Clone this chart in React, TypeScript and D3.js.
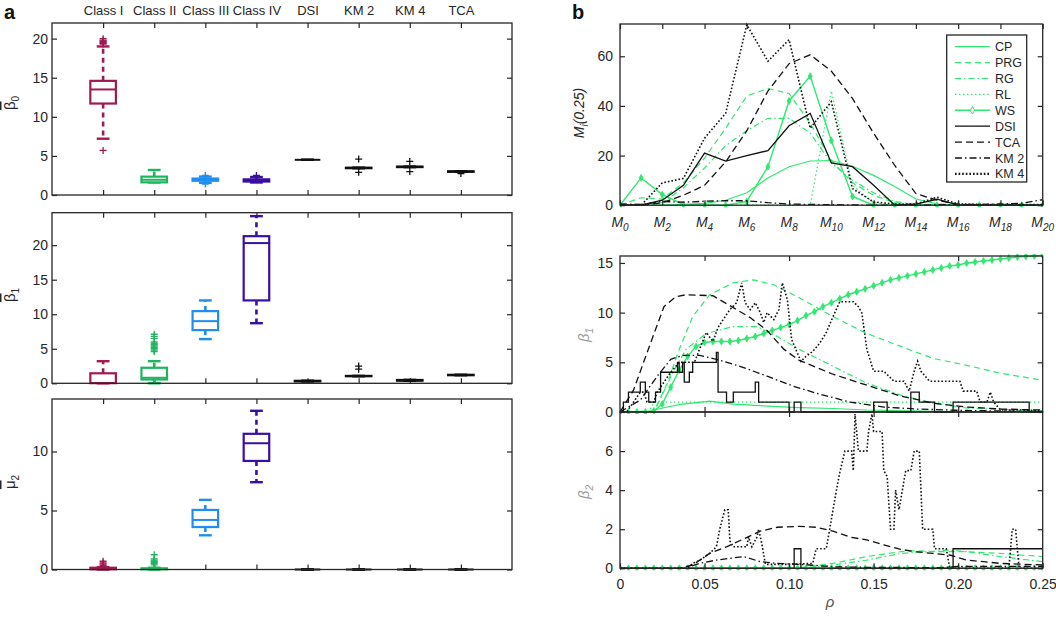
import { useEffect, useRef } from 'react';
import * as d3 from 'd3';

const FONT = "'Liberation Sans', Arial, Helvetica, sans-serif";
const INK = '#262626';
const GREEN = '#2fe86f';
const BLACK = '#111111';

// ---------- panel a: box plots ----------
const categories = ['Class I', 'Class II', 'Class III', 'Class IV', 'DSI', 'KM 2', 'KM 4', 'TCA'];
const boxColors = ['#a01b52', '#1eb55e', '#1f8ef0', '#3a0ea0', BLACK, BLACK, BLACK, BLACK];

// [lower whisker, q1, median, q3, upper whisker]
const beta0Boxes = [
  [7.2, 11.7, 13.5, 14.6, 19.0],
  [1.6, 1.62, 1.95, 2.35, 3.2],
  [1.55, 1.82, 1.95, 2.1, 2.35],
  [1.6, 1.72, 1.85, 2.0, 2.3],
  [4.5, 4.5, 4.5, 4.5, 4.5],
  [3.42, 3.43, 3.46, 3.49, 3.5],
  [3.56, 3.57, 3.6, 3.63, 3.64],
  [2.96, 2.97, 3.0, 3.03, 3.04],
];
const beta0Outliers = [
  [5.7, 19.3, 19.4, 19.5, 19.6, 19.7, 19.8, 20.0],
  [], [1.4, 2.5], [2.5], [], [2.9, 4.6], [3.0, 4.3], [2.75],
];

const beta1Boxes = [
  [0, 0.02, 0.05, 1.45, 3.2],
  [0, 0.55, 0.8, 2.25, 3.2],
  [6.4, 7.7, 9.0, 10.45, 12.0],
  [8.7, 12.0, 20.3, 21.3, 24.2],
  [0.26, 0.28, 0.32, 0.36, 0.38],
  [1.02, 1.03, 1.05, 1.07, 1.08],
  [0.36, 0.38, 0.43, 0.48, 0.5],
  [1.16, 1.17, 1.2, 1.23, 1.24],
];
const beta1Outliers = [
  [], [4.6, 4.8, 5.0, 5.2, 5.4, 5.6, 5.8, 6.0, 6.5, 6.8, 7.1], [], [], [], [2.05, 2.5], [], [],
];

const mu2Boxes = [
  [0, 0.02, 0.05, 0.15, 0.2],
  [0, 0.02, 0.05, 0.1, 0.15],
  [2.9, 3.6, 4.2, 5.05, 5.9],
  [7.4, 9.2, 10.7, 11.5, 13.45],
  [0, 0, 0, 0, 0],
  [0, 0, 0, 0, 0],
  [0, 0, 0, 0, 0],
  [0, 0, 0, 0, 0],
];
const mu2Outliers = [
  [0.25, 0.35, 0.45, 0.55, 0.7], [0.4, 0.5, 0.6, 0.7, 0.8, 0.9, 1.25], [], [], [], [], [], [],
];

// ---------- panel b, top: M_i(0.25) over M0..M20 ----------
const mIndex = d3.range(21);
const cpTop = [0, 0, 0, 0.3, 0.7, 2, 5, 11, 15.5, 17.8, 18, 15.7, 12, 7.5, 2.5, 0.5, 0, 0, 0, 0, 0];
const prgTop = [0, 3, 2.5, 9, 19, 31, 44, 47, 45, 33, 18, 9, 4, 1, 0.3, 0, 0, 0, 0, 0, 0];
const rgTop = [0, 0.5, 1, 7, 15, 24, 30, 35, 35, 29, 17, 10, 5, 1.5, 0.3, 0, 0, 0, 0, 0, 0];
const rlTop = [0, 0, 0, 0, 0, 0, 0, 0, 0, 0, 46, 8, 1, 0, 0, 0, 0, 0, 0, 0, 0];
const wsTop = [0, 11, 4.3, 0.3, 0, 0, 1.5, 15.5, 42, 52, 26, 3.5, 0, 0, 0, 0, 0, 0, 0, 0, 0];
const dsiTop = [0, 0, 2, 8, 21, 17.8, 20, 22, 32, 37, 17, 15.5, 8, 0, 0.4, 2.4, 0, 0, 0, 0, 0];
const tcaTop = [0, 0, 1, 4, 8, 17.5, 30, 46, 57, 60.6, 54, 43, 29, 16, 4.7, 2, 0.3, 0, 0, 0, 0];
const km2Top = [0.5, 0.3, 1.5, 1.2, 1.6, 1.8, 1.8, 1, 0.5, 0.3, 0.2, 0.1, 0, 0, 0, 0.2, 0.3, 0.3, 0.5, 0.8, 2.2];
const km4Top = [0, 0, 9, 10.8, 27, 37, 72.7, 58, 66.7, 31, 41.7, 6.7, 1.3, 0.5, 0.5, 3.2, 0.5, 0.3, 0.3, 0.3, 0.3];

// ---------- panel b, middle: beta_1 over rho ----------
const rhoGrid = d3.range(0, 0.2501, 0.005);
const wsBeta1 = [0, 0, 0, 0, 0.1, 0.8, 2.5, 4.2, 5.6, 6.6, 7.0, 7.1, 7.1, 7.1, 7.2, 7.4, 7.6, 7.9, 8.2, 8.5,
  8.8, 9.2, 9.7, 10.1, 10.6, 11.0, 11.4, 11.8, 12.1, 12.4, 12.7, 13.0, 13.3, 13.5, 13.7, 13.9, 14.1, 14.3,
  14.5, 14.7, 14.8, 15.0, 15.1, 15.2, 15.3, 15.4, 15.5, 15.6, 15.65, 15.7, 15.75];
const cpBeta1 = [[0, 0], [0.018, 0.1], [0.028, 0.5], [0.037, 0.8], [0.053, 1.1], [0.067, 0.8], [0.087, 0.6],
  [0.106, 0.45], [0.126, 0.35], [0.146, 0.2], [0.185, 0.07], [0.25, 0]];
const prgBeta1 = [[0, 0], [0.02, 0], [0.028, 2.9], [0.035, 6.3], [0.043, 9.6], [0.053, 11.8], [0.067, 13],
  [0.079, 13.3], [0.091, 12.8], [0.106, 11.5], [0.126, 9.6], [0.146, 7.9], [0.166, 6.6], [0.185, 5.4],
  [0.205, 4.7], [0.225, 3.9], [0.25, 3.2]];
const rgBeta1 = [[0, 0], [0.02, 0], [0.032, 4.2], [0.039, 6.3], [0.051, 7.9], [0.067, 8.6], [0.081, 8.6],
  [0.093, 7.6], [0.106, 6.3], [0.126, 4.6], [0.146, 2.9], [0.166, 1.7], [0.185, 0.9], [0.205, 0.4], [0.25, 0.1]];
const rlBeta1 = [[0, 0], [0.017, 0], [0.02, 1], [0.25, 1]];
const dsiBeta1 = [[0, 0], [0.002, 1], [0.005, 2], [0.012, 3], [0.015, 2], [0.017, 1], [0.021, 2], [0.024, 4],
  [0.034, 5], [0.035, 4], [0.037, 5], [0.038, 3], [0.041, 4], [0.043, 5], [0.057, 6], [0.058, 2], [0.063, 1],
  [0.067, 2], [0.08, 3], [0.082, 1], [0.1, 0], [0.103, 1], [0.107, 0], [0.15, 1], [0.158, 0], [0.172, 2],
  [0.177, 1], [0.186, 0], [0.197, 1], [0.242, 0], [0.25, 0]];
const tcaBeta1 = [[0, 0], [0.008, 2.2], [0.018, 6.9], [0.026, 10.6], [0.033, 11.6], [0.039, 11.8], [0.055, 11.7],
  [0.067, 10.5], [0.077, 9.5], [0.087, 8.2], [0.097, 6.3], [0.106, 5.2], [0.126, 3.8], [0.146, 2.7],
  [0.166, 1.6], [0.185, 0.9], [0.205, 0.5], [0.225, 0.3], [0.25, 0.2]];
const km2Beta1 = [[0, 0], [0.012, 1.2], [0.022, 3.6], [0.03, 5.3], [0.037, 5.7], [0.047, 5.7], [0.057, 5.3],
  [0.071, 4.6], [0.087, 3.6], [0.1025, 2.6], [0.116, 1.9], [0.136, 1.0], [0.156, 0.5], [0.175, 0.3],
  [0.205, 0.15], [0.25, 0.05]];
const km4Beta1 = [[0, 0], [0.004, 0], [0.008, 1], [0.012, 2], [0.014, 2], [0.016, 1], [0.02, 1], [0.022, 2],
  [0.026, 3], [0.03, 4], [0.035, 5], [0.044, 5], [0.047, 6.3], [0.051, 8], [0.055, 7.1], [0.058, 8.5],
  [0.061, 9.3], [0.065, 10.3], [0.069, 11], [0.072, 13], [0.074, 11], [0.077, 10.3], [0.08, 11], [0.083, 10],
  [0.085, 9], [0.087, 10], [0.091, 9.3], [0.094, 10.3], [0.096, 13], [0.099, 11.3], [0.1015, 7.3],
  [0.104, 6.3], [0.107, 5.1], [0.11, 5.6], [0.114, 6.1], [0.118, 6.9], [0.122, 8], [0.126, 9.6], [0.13, 11.1],
  [0.138, 11.1], [0.141, 10.6], [0.143, 10], [0.146, 6.3], [0.15, 4.1], [0.156, 4.1], [0.162, 3.1],
  [0.168, 3.1], [0.171, 2.1], [0.174, 4.1], [0.176, 5.1], [0.178, 4.1], [0.183, 3.1], [0.201, 3.1],
  [0.203, 2.1], [0.211, 2.1], [0.213, 1], [0.217, 1], [0.219, 2], [0.221, 1], [0.225, 0.2], [0.24, 0.2], [0.25, 0.1]];

// ---------- panel b, bottom: beta_2 over rho ----------
const wsBeta2 = [0, 0, 0, 0, 0, 0, 0, 0, 0, 0, 0, 0, 0, 0, 0, 0, 0, 0, 0, 0, 0, 0, 0, 0, 0, 0,
  0, 0, 0, 0, 0, 0, 0, 0, 0, 0, 0, 0, 0, 0, 0, 0, 0, 0, 0, 0, 0, 0, 0, 0, 0];
const cpBeta2 = [[0, 0], [0.25, 0]];
const rlBeta2 = [[0, 0], [0.25, 0]];
const prgBeta2 = [[0, 0], [0.105, 0], [0.11, 0.08], [0.126, 0.25], [0.146, 0.6], [0.156, 0.73], [0.166, 0.85],
  [0.175, 0.9], [0.185, 0.85], [0.205, 0.85], [0.225, 0.76], [0.25, 0.6]];
const rgBeta2 = [[0, 0], [0.11, 0], [0.126, 0.17], [0.146, 0.42], [0.166, 0.76], [0.195, 0.93], [0.205, 0.85],
  [0.225, 0.6], [0.25, 0.34]];
const dsiBeta2 = [[0, 0], [0.103, 1], [0.107, 0], [0.197, 1], [0.25, 1]];
const tcaBeta2 = [[0, 0], [0.035, 0], [0.043, 0.17], [0.053, 0.76], [0.063, 1.1], [0.073, 1.5], [0.083, 1.9],
  [0.093, 2.1], [0.106, 2.15], [0.116, 2.1], [0.126, 1.9], [0.136, 1.6], [0.146, 1.45], [0.156, 1.2],
  [0.166, 0.97], [0.175, 0.85], [0.185, 0.76], [0.195, 0.68], [0.205, 0.42], [0.215, 0.34], [0.225, 0.25], [0.25, 0.17]];
const km2Beta2 = [[0, 0], [0.038, 0], [0.047, 0.25], [0.057, 0.42], [0.073, 0.6], [0.083, 0.34], [0.093, 0.25],
  [0.1025, 0.22], [0.112, 0.17], [0.126, 0.08], [0.146, 0.05], [0.19, 0.03], [0.2, 0.1], [0.25, 0.1]];
const km4Beta2 = [[0, 0], [0.04, 0], [0.043, 0.25], [0.047, 0.4], [0.053, 0.76], [0.057, 1.1], [0.059, 2],
  [0.062, 3], [0.064, 3], [0.065, 1.4], [0.067, 1.1], [0.075, 1.1], [0.076, 1.6], [0.078, 1.1], [0.081, 1.6],
  [0.082, 2], [0.084, 1.2], [0.086, 0.2], [0.1, 0.2], [0.114, 0.25], [0.116, 1], [0.122, 1], [0.124, 2],
  [0.126, 3], [0.128, 4], [0.13, 4.9], [0.133, 6], [0.137, 6], [0.138, 5], [0.139, 7.9], [0.141, 6],
  [0.146, 6], [0.147, 7], [0.149, 7.9], [0.15, 7], [0.155, 7], [0.156, 5], [0.158, 4.7], [0.16, 2],
  [0.162, 2], [0.163, 4], [0.165, 3], [0.167, 4], [0.169, 5], [0.172, 5], [0.174, 6], [0.177, 6],
  [0.179, 2], [0.185, 2], [0.186, 1], [0.193, 1], [0.195, 0], [0.23, 0], [0.232, 2], [0.234, 2],
  [0.236, 0], [0.25, 0]];

const legendNames = ['CP', 'PRG', 'RG', 'RL', 'WS', 'DSI', 'TCA', 'KM 2', 'KM 4'];
const seriesStyle: Record<string, { color: string; dash: string | null; width: number; marker?: boolean; step?: boolean }> = {
  CP: { color: GREEN, dash: null, width: 1.2 },
  PRG: { color: GREEN, dash: '6,4', width: 1.2 },
  RG: { color: GREEN, dash: '6,3,1.5,3', width: 1.2 },
  RL: { color: GREEN, dash: '1.5,2.5', width: 1.2 },
  WS: { color: GREEN, dash: null, width: 1.4, marker: true },
  DSI: { color: BLACK, dash: null, width: 1.3, step: true },
  TCA: { color: BLACK, dash: '7,4', width: 1.3 },
  'KM 2': { color: BLACK, dash: '7,3,1.5,3', width: 1.3 },
  'KM 4': { color: BLACK, dash: '1.6,2', width: 1.6 },
};

function styleAxis(sel: any) {
  sel.attr('font-family', FONT).attr('font-size', 14).attr('color', INK);
  sel.select('.domain').remove();
  sel.selectAll('line').attr('stroke-width', 1.2);
}

function yLabel(svg: any, x: number, y: number, main: string, sub: string, color: string, italic: boolean, bar: boolean) {
  const t = svg.append('text')
    .attr('transform', `translate(${x},${y}) rotate(-90)`)
    .attr('text-anchor', 'middle')
    .attr('font-family', FONT)
    .attr('font-size', 15)
    .attr('fill', color)
    .attr('font-style', italic ? 'italic' : 'normal');
  t.append('tspan').style('text-decoration', bar ? 'overline' : 'none').text(main);
  t.append('tspan').attr('dy', 4).attr('font-size', 10).text(sub);
}

function drawBoxPanel(svg: any, p: any) {
  const x = d3.scaleLinear().domain([0, 9]).range([52, 512]);
  const y = d3.scaleLinear().domain([0, p.max]).range([p.bottom, p.top]);
  const g = svg.append('g');

  g.append('g').attr('transform', 'translate(52,0)')
    .call(d3.axisLeft(y).tickValues(p.ticks).tickSize(-5).tickPadding(4)).call(styleAxis);
  g.append('g').attr('transform', 'translate(512,0)')
    .call(d3.axisRight(y).tickValues(p.ticks).tickSize(-5).tickFormat(() => '')).call(styleAxis);
  g.append('g').attr('transform', `translate(0,${p.top})`)
    .call(d3.axisTop(x).tickValues(d3.range(1, 9)).tickSize(-5).tickPadding(8)
      .tickFormat((d: any) => (p.showNames ? categories[d - 1] : '')))
    .call(styleAxis)
    .attr('font-size', 13);
  g.append('g').attr('transform', `translate(0,${p.bottom})`)
    .call(d3.axisBottom(x).tickValues(d3.range(1, 9)).tickSize(-5).tickFormat(() => '')).call(styleAxis);

  const half = x(1.25) - x(1);
  const cap = x(1.125) - x(1);
  categories.forEach((_, i) => {
    const [lo, q1, med, q3, hi] = p.boxes[i];
    const cx = x(i + 1);
    const col = boxColors[i];
    [[q3, hi], [q1, lo]].forEach(([a, b]) => {
      g.append('line').attr('x1', cx).attr('x2', cx).attr('y1', y(a)).attr('y2', y(b))
        .attr('stroke', col).attr('stroke-width', 2.6).attr('stroke-dasharray', '5,4');
      g.append('line').attr('x1', cx - cap).attr('x2', cx + cap).attr('y1', y(b)).attr('y2', y(b))
        .attr('stroke', col).attr('stroke-width', 2.4);
    });
    g.append('rect').attr('x', cx - half).attr('y', y(q3)).attr('width', 2 * half)
      .attr('height', Math.max(0, y(q1) - y(q3))).attr('fill', 'white')
      .attr('stroke', col).attr('stroke-width', 2.2);
    g.append('line').attr('x1', cx - half).attr('x2', cx + half).attr('y1', y(med)).attr('y2', y(med))
      .attr('stroke', col).attr('stroke-width', 2);
    p.outliers[i].forEach((v: number) => {
      const oy = y(v);
      g.append('path').attr('d', `M${cx - 3.5},${oy}H${cx + 3.5}M${cx},${oy - 3.5}V${oy + 3.5}`)
        .attr('stroke', col).attr('stroke-width', 1.3).attr('fill', 'none');
    });
  });

  g.append('rect').attr('x', 52).attr('y', p.top).attr('width', 460).attr('height', p.bottom - p.top)
    .attr('fill', 'none').attr('stroke', INK).attr('stroke-width', 1.3);
  yLabel(svg, 15, p.labelY, p.sym, p.sub, INK, false, true);
}

function drawSeries(g: any, x: any, y: any, name: string, pts: number[][], step: boolean) {
  const s = seriesStyle[name];
  const line = d3.line().x((d: any) => x(d[0])).y((d: any) => y(d[1]));
  if (step) line.curve(d3.curveStepAfter);
  g.append('path').attr('d', line(pts as any)).attr('fill', 'none').attr('stroke', s.color)
    .attr('stroke-width', s.width).attr('stroke-dasharray', s.dash);
  if (s.marker) {
    const sym = d3.symbol(d3.symbolDiamond, 14);
    g.selectAll(null).data(pts).join('path')
      .attr('transform', (d: any) => `translate(${x(d[0])},${y(d[1])})`)
      .attr('d', sym as any).attr('fill', s.color).attr('stroke', s.color).attr('stroke-width', 0.8);
  }
}

function plotFrame(svg: any, id: string, top: number, bottom: number) {
  svg.append('clipPath').attr('id', id).append('rect')
    .attr('x', 620).attr('y', top - 2).attr('width', 422.7).attr('height', bottom - top + 4);
  return svg.append('g').attr('clip-path', `url(#${id})`);
}

function drawRight(svg: any) {
  const L = 620, R = 1042.7;
  const zip = (xs: number[], ys: number[]) => xs.map((v, i) => [v, ys[i]]);

  // top plot
  const xM = d3.scaleLinear().domain([0, 20]).range([L, R]);
  const yM = d3.scaleLinear().domain([0, 73]).range([205.2, 24]);
  const topData: Record<string, number[][]> = {
    CP: zip(mIndex, cpTop), PRG: zip(mIndex, prgTop), RG: zip(mIndex, rgTop), RL: zip(mIndex, rlTop),
    WS: zip(mIndex, wsTop), DSI: zip(mIndex, dsiTop), TCA: zip(mIndex, tcaTop),
    'KM 2': zip(mIndex, km2Top), 'KM 4': zip(mIndex, km4Top),
  };
  const gt = plotFrame(svg, 'clip-top', 24, 205.2);
  legendNames.forEach(n => drawSeries(gt, xM, yM, n, topData[n], false));
  const evenM = d3.range(0, 21, 2);
  svg.append('g').attr('transform', `translate(${L},0)`)
    .call(d3.axisLeft(yM).tickValues([0, 20, 40, 60]).tickSize(-5).tickPadding(7)).call(styleAxis);
  svg.append('g').attr('transform', `translate(${R},0)`)
    .call(d3.axisRight(yM).tickValues([0, 20, 40, 60]).tickSize(-5).tickFormat(() => '')).call(styleAxis);
  svg.append('g').attr('transform', 'translate(0,24)')
    .call(d3.axisTop(xM).tickValues(evenM).tickSize(-5).tickFormat(() => '')).call(styleAxis);
  svg.append('g').attr('transform', 'translate(0,205.2)')
    .call(d3.axisBottom(xM).tickValues(evenM).tickSize(-5).tickFormat(() => '')).call(styleAxis);
  evenM.forEach(i => {
    const t = svg.append('text').attr('x', xM(i)).attr('y', 227).attr('text-anchor', 'middle')
      .attr('font-family', FONT).attr('font-style', 'italic').attr('font-size', 14).attr('fill', INK);
    t.append('tspan').text('M');
    t.append('tspan').attr('dy', 4).attr('font-size', 10).text(String(i));
  });
  svg.append('rect').attr('x', L).attr('y', 24).attr('width', R - L).attr('height', 205.2 - 24)
    .attr('fill', 'none').attr('stroke', INK).attr('stroke-width', 1.3);
  const ml = svg.append('text').attr('transform', 'translate(584,113) rotate(-90)').attr('text-anchor', 'middle')
    .attr('font-family', FONT).attr('font-style', 'italic').attr('font-size', 14).attr('fill', INK);
  ml.append('tspan').text('M');
  ml.append('tspan').attr('dy', 4).attr('font-size', 10).text('i');
  ml.append('tspan').attr('dy', -4).text('(0.25)');

  // legend
  const lg = svg.append('g');
  lg.append('rect').attr('x', 946.7).attr('y', 35).attr('width', 80).attr('height', 147)
    .attr('fill', 'white').attr('stroke', INK).attr('stroke-width', 1.3);
  legendNames.forEach((n, i) => {
    const s = seriesStyle[n];
    const ly = 46.7 + i * 15.9;
    lg.append('line').attr('x1', 955).attr('x2', 990).attr('y1', ly).attr('y2', ly)
      .attr('stroke', s.color).attr('stroke-width', n === 'KM 4' ? 2.2 : s.width)
      .attr('stroke-dasharray', s.dash);
    if (s.marker) {
      lg.append('path').attr('transform', `translate(972.5,${ly})`)
        .attr('d', d3.symbol(d3.symbolDiamond, 16) as any).attr('fill', 'white').attr('stroke', s.color);
    }
    lg.append('text').attr('x', 995).attr('y', ly + 4.5).attr('font-family', FONT).attr('font-size', 12.5)
      .attr('fill', INK).text(n);
  });

  // middle + bottom plots share rho axis
  const xR = d3.scaleLinear().domain([0, 0.25]).range([L, R]);
  const rhoTicks = [0.05, 0.1, 0.15, 0.2];
  const panels = [
    {
      id: 'clip-mid', top: 256, bottom: 412, max: 15.7, ticks: [0, 5, 10, 15], lab: '1', labY: 335,
      data: {
        CP: cpBeta1, PRG: prgBeta1, RG: rgBeta1, RL: rlBeta1, WS: zip(rhoGrid, wsBeta1),
        DSI: dsiBeta1, TCA: tcaBeta1, 'KM 2': km2Beta1, 'KM 4': km4Beta1,
      } as Record<string, number[][]>,
    },
    {
      id: 'clip-bot', top: 412, bottom: 568.3, max: 8, ticks: [0, 2, 4, 6], lab: '2', labY: 492,
      data: {
        CP: cpBeta2, PRG: prgBeta2, RG: rgBeta2, RL: rlBeta2, WS: zip(rhoGrid, wsBeta2),
        DSI: dsiBeta2, TCA: tcaBeta2, 'KM 2': km2Beta2, 'KM 4': km4Beta2,
      } as Record<string, number[][]>,
    },
  ];
  panels.forEach((p, pi) => {
    const y = d3.scaleLinear().domain([0, p.max]).range([p.bottom, p.top]);
    const g = plotFrame(svg, p.id, p.top, p.bottom);
    legendNames.forEach(n => drawSeries(g, xR, y, n, p.data[n], !!seriesStyle[n].step));
    svg.append('g').attr('transform', `translate(${L},0)`)
      .call(d3.axisLeft(y).tickValues(p.ticks).tickSize(-5).tickPadding(7)).call(styleAxis);
    svg.append('g').attr('transform', `translate(${R},0)`)
      .call(d3.axisRight(y).tickValues(p.ticks).tickSize(-5).tickFormat(() => '')).call(styleAxis);
    svg.append('g').attr('transform', `translate(0,${p.top})`)
      .call(d3.axisTop(xR).tickValues(rhoTicks).tickSize(-5).tickFormat(() => '')).call(styleAxis);
    const bx = svg.append('g').attr('transform', `translate(0,${p.bottom})`);
    if (pi === 1) {
      bx.call(d3.axisBottom(xR).tickValues([0, 0.05, 0.1, 0.15, 0.2, 0.25]).tickSize(-5).tickPadding(11)
        .tickFormat((d: any) => (d === 0 ? '0' : d3.format('.2f')(d)))).call(styleAxis);
    } else {
      bx.call(d3.axisBottom(xR).tickValues(rhoTicks).tickSize(-5).tickFormat(() => '')).call(styleAxis);
    }
    svg.append('rect').attr('x', L).attr('y', p.top).attr('width', R - L).attr('height', p.bottom - p.top)
      .attr('fill', 'none').attr('stroke', INK).attr('stroke-width', 1.3);
    yLabel(svg, 589, p.labY, 'β', p.lab, '#9a9a9a', true, false);
  });
  svg.append('text').attr('x', 830).attr('y', 607).attr('text-anchor', 'middle').attr('font-family', FONT)
    .attr('font-style', 'italic').attr('font-size', 15).attr('fill', '#555').text('ρ');
}

export default function App() {
  const ref = useRef<SVGSVGElement>(null);

  useEffect(() => {
    const svg = d3.select(ref.current);
    svg.selectAll('*').remove();

    const boxPanels = [
      { top: 23, bottom: 195, max: 22, ticks: [0, 5, 10, 15, 20], boxes: beta0Boxes, outliers: beta0Outliers, sym: 'β', sub: '0', labelY: 103, showNames: true },
      { top: 212.7, bottom: 383.3, max: 24.7, ticks: [0, 5, 10, 15, 20], boxes: beta1Boxes, outliers: beta1Outliers, sym: 'β', sub: '1', labelY: 295, showNames: false },
      { top: 399, bottom: 569.5, max: 14.45, ticks: [0, 5, 10], boxes: mu2Boxes, outliers: mu2Outliers, sym: 'μ', sub: '2', labelY: 482, showNames: false },
    ];
    boxPanels.forEach(p => drawBoxPanel(svg, p));
    drawRight(svg);

    svg.append('text').attr('x', 4).attr('y', 18.5).attr('font-family', FONT).attr('font-weight', 'bold')
      .attr('font-size', 20).attr('fill', '#111').text('a');
    svg.append('text').attr('x', 572).attr('y', 19).attr('font-family', FONT).attr('font-weight', 'bold')
      .attr('font-size', 20).attr('fill', '#111').text('b');
  }, []);

  return (
    <svg ref={ref} width={1056} height={617}
      style={{ position: 'absolute', left: 0, top: 0, background: '#fff' }} />
  );
}
